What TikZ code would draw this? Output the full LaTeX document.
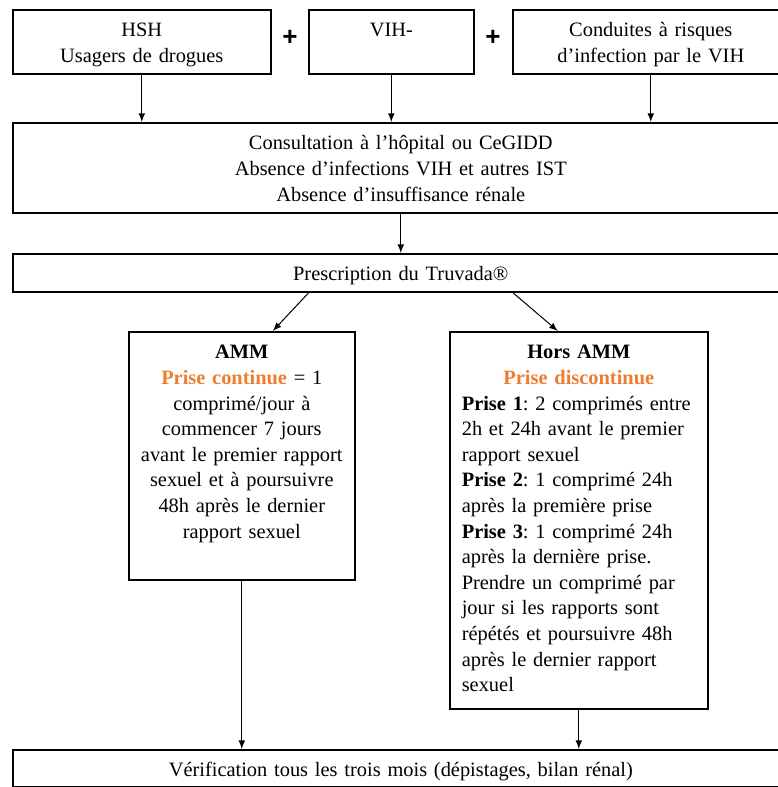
\documentclass[tikz,border=0pt]{standalone}
\usepackage{fontspec}
\setmainfont{Liberation Serif}
\newfontfamily\plusfont{Liberation Sans}
\usetikzlibrary{positioning}
\definecolor{prisecolor}{HTML}{ED7D31}
\newcommand{\boxfont}{\fontsize{10.2}{12.8}\selectfont\frenchspacing\hyphenpenalty=10000\relax}
\tikzset{>=latex}
\tikzset{
  box/.style={draw, line width=0.8pt, anchor=north west, inner xsep=3pt,
    inner ysep=4pt, text height=9.5pt, align=center, font=\boxfont},
  flowarrow/.style={->, line width=0.5pt},
  plussign/.style={inner sep=0pt, font=\plusfont\bfseries\fontsize{13}{13}\selectfont},
}
\begin{document}
\begin{tikzpicture}[x=0.5pt, y=-0.5pt]

  \useasboundingbox (0,0) rectangle (777,787);

  % Nodes
  \node[box, text width=123pt, text depth=14.5pt] (hsh) at (12,9)
    {HSH\\Usagers de drogues};
  \node[box, text width=76.5pt, text depth=14.5pt] (vih) at (308,9) {VIH-};
  \node[box, text width=132pt, text depth=14.5pt] (risk) at (512,9)
    {Conduites à risques\\d’infection par le VIH};
  \node[plussign] (plusa) at (290,38) {+};
  \node[plussign] (plusb) at (493,38) {+};

  \node[box, text width=382pt, text depth=27.5pt] (consult) at (12,122)
    {Consultation à l’hôpital ou CeGIDD\\Absence d’infections VIH et autres IST\\Absence d’insuffisance rénale};
  \node[box, text width=382pt, text depth=1.5pt] (presc) at (12,253)
    {Prescription du Truvada®};

  \node[box, text width=109pt, inner xsep=2pt, text depth=106.5pt] (amm) at (128,331)
    {\textbf{AMM}\\\textcolor{prisecolor}{\textbf{Prise continue}} = 1\\comprimé/jour à\\commencer 7 jours\\avant le premier rapport\\sexuel et à poursuivre\\48h après le dernier\\rapport sexuel};
  \node[box, text width=117pt, inner xsep=6pt, text depth=171pt, align=left] (hors) at (449,331)
    {{\centering\textbf{Hors AMM}\\\textcolor{prisecolor}{\textbf{Prise discontinue}}\par}
     \textbf{Prise 1}: 2 comprimés entre\\2h et 24h avant le premier\\rapport sexuel\\
     \textbf{Prise 2}: 1 comprimé 24h\\après la première prise\\
     \textbf{Prise 3}: 1 comprimé 24h\\après la dernière prise.\\
     Prendre un comprimé par\\jour si les rapports sont\\répétés et poursuivre 48h\\après le dernier rapport\\sexuel};

  \node[box, text width=382pt, text depth=1pt] (verif) at (12,749)
    {Vérification tous les trois mois (dépistages, bilan rénal)};

  % Edges
  \draw[flowarrow] (hsh.south) -- (hsh.south |- consult.north);
  \draw[flowarrow] (vih.south) -- (vih.south |- consult.north);
  \draw[flowarrow] (risk.south) -- (risk.south |- consult.north);
  \draw[flowarrow] (consult.south) -- (presc.north);
  \draw[flowarrow] ([xshift=-46pt]presc.south) -- ([xshift=15.5pt]amm.north);
  \draw[flowarrow] ([xshift=56pt]presc.south) -- ([xshift=-10.5pt]hors.north);
  \draw[flowarrow] (amm.south) -- (amm.south |- verif.north);
  \draw[flowarrow] (hors.south) -- (hors.south |- verif.north);

\end{tikzpicture}
\end{document}
